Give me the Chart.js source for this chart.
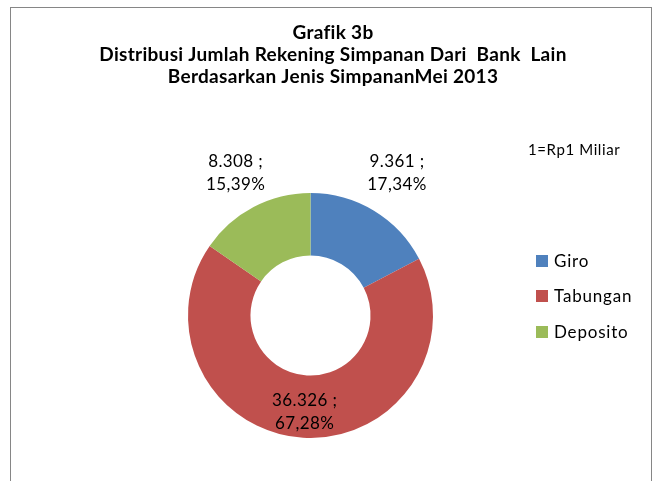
<!DOCTYPE html>
<html>
<head>
<meta charset="utf-8">
<script src="https://cdn.jsdelivr.net/npm/chart.js@4"></script>
<style>
html,body{margin:0;padding:0;background:#fff;}
#wrap{width:655px;height:481px;position:relative;}
</style>
</head>
<body>
<div id="wrap"><canvas id="c" width="655" height="481"></canvas></div>
<script>
const categories = ["Giro", "Tabungan", "Deposito"];
const values = [9361, 36326, 8308];
const valueLabels = ["9.361", "36.326", "8.308"];
const percentLabels = ["17,34%", "67,28%", "15,39%"];
const titleLines = ["Grafik 3b", "Distribusi Jumlah Rekening Simpanan Dari  Bank  Lain", "Berdasarkan Jenis SimpananMei 2013"];
const unitNote = "1=Rp1 Miliar";

const colors = ["#4F81BD", "#C0504D", "#9BBB59"];
const labelRadius = [167, 96, 161];
const FONT = "Lato, 'Open Sans', sans-serif";

const decor = {
  id: "decor",
  beforeDraw(chart) {
    const ctx = chart.ctx;
    ctx.save();
    ctx.fillStyle = "#fff";
    ctx.fillRect(0, 0, chart.width, chart.height);
    ctx.strokeStyle = "#868686";
    ctx.lineWidth = 1;
    ctx.strokeRect(10.5, 7.5, 641, 520);
    ctx.restore();
  },
  afterDraw(chart) {
    const ctx = chart.ctx;
    ctx.save();
    // title
    ctx.fillStyle = "#000";
    ctx.textAlign = "center";
    ctx.textBaseline = "middle";
    ctx.font = "bold 19px " + FONT;
    ctx.letterSpacing = "0.3px";
    const ty = [33, 55, 77];
    titleLines.forEach((t, i) => ctx.fillText(t, 333, ty[i]));
    // unit note
    ctx.font = "15px " + FONT;
    ctx.letterSpacing = "0.6px";
    ctx.textAlign = "left";
    ctx.fillText(unitNote, 528, 150);
    // legend
    ctx.font = "17px " + FONT;
    ctx.letterSpacing = "0.8px";
    const ly = [261, 296, 332];
    categories.forEach((c, i) => {
      ctx.fillStyle = colors[i];
      ctx.fillRect(536, ly[i] - 6, 12, 12);
      ctx.fillStyle = "#000";
      ctx.fillText(c, 554, ly[i] + 1);
    });
    // data labels
    const meta = chart.getDatasetMeta(0);
    ctx.textAlign = "center";
    ctx.font = "17px " + FONT;
    ctx.letterSpacing = "0.4px";
    meta.data.forEach((arc, i) => {
      const p = arc.getProps(["x", "y", "startAngle", "endAngle"], true);
      const a = (p.startAngle + p.endAngle) / 2;
      const x = p.x + labelRadius[i] * Math.cos(a);
      const y = p.y + labelRadius[i] * Math.sin(a);
      ctx.fillStyle = "#000";
      ctx.fillText(valueLabels[i] + " ;", x, y - 11);
      ctx.fillText(percentLabels[i], x, y + 12);
    });
    ctx.restore();
  }
};

new Chart(document.getElementById("c"), {
  type: "doughnut",
  data: {
    labels: categories,
    datasets: [{
      data: values,
      backgroundColor: colors,
      borderWidth: 0
    }]
  },
  options: {
    responsive: false,
    animation: false,
    cutout: "49%",
    layout: { padding: { left: 188, right: 222, top: 193, bottom: 43 } },
    plugins: {
      legend: { display: false },
      title: { display: false },
      tooltip: { enabled: false }
    }
  },
  plugins: [decor]
});
</script>
</body>
</html>
